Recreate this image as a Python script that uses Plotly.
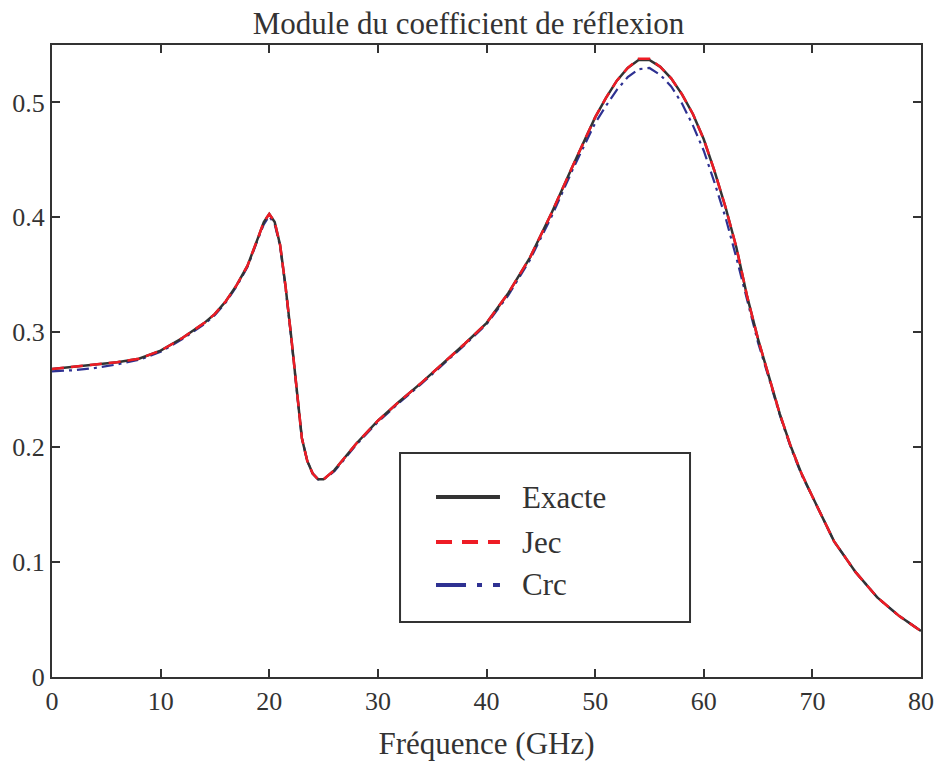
import plotly.graph_objects as go

freq = [0, 2, 4, 6, 8, 10, 12, 14, 15, 16, 17, 18, 19, 19.5, 20, 20.5, 21, 21.5, 22,
        22.5, 23, 23.5, 24, 24.5, 25, 26, 27, 28, 30, 32, 34, 36, 38, 40, 42, 44, 46,
        48, 50, 51, 52, 53, 54, 55, 56, 57, 58, 59, 60, 61, 62, 63, 64, 65, 66, 67,
        68, 69, 70, 72, 74, 76, 78, 80]

exacte = [0.268, 0.270, 0.272, 0.274, 0.277, 0.284, 0.295, 0.308, 0.316, 0.327, 0.341,
          0.358, 0.383, 0.396, 0.403, 0.396, 0.376, 0.340, 0.298, 0.250, 0.208, 0.188,
          0.177, 0.172, 0.172, 0.180, 0.192, 0.203, 0.223, 0.240, 0.256, 0.273, 0.290,
          0.308, 0.334, 0.365, 0.404, 0.446, 0.487, 0.504, 0.519, 0.530, 0.537, 0.537,
          0.531, 0.521, 0.507, 0.490, 0.468, 0.440, 0.409, 0.374, 0.331, 0.294, 0.262,
          0.229, 0.201, 0.177, 0.157, 0.118, 0.091, 0.069, 0.053, 0.040]

jec = [0.268, 0.270, 0.272, 0.274, 0.277, 0.284, 0.295, 0.308, 0.316, 0.327, 0.341,
       0.358, 0.383, 0.396, 0.403, 0.396, 0.376, 0.340, 0.298, 0.250, 0.208, 0.188,
       0.177, 0.172, 0.172, 0.180, 0.192, 0.203, 0.223, 0.240, 0.256, 0.273, 0.290,
       0.308, 0.334, 0.365, 0.404, 0.446, 0.487, 0.504, 0.519, 0.530, 0.538, 0.538,
       0.531, 0.521, 0.507, 0.490, 0.468, 0.440, 0.409, 0.374, 0.331, 0.294, 0.262,
       0.229, 0.201, 0.177, 0.157, 0.118, 0.091, 0.069, 0.053, 0.040]

crc = [0.266, 0.267, 0.269, 0.272, 0.276, 0.283, 0.294, 0.307, 0.315, 0.326, 0.340,
       0.357, 0.382, 0.394, 0.401, 0.394, 0.375, 0.339, 0.297, 0.250, 0.208, 0.188,
       0.177, 0.172, 0.172, 0.179, 0.191, 0.202, 0.222, 0.239, 0.255, 0.272, 0.289,
       0.307, 0.332, 0.363, 0.401, 0.443, 0.482, 0.497, 0.511, 0.522, 0.529, 0.530,
       0.524, 0.514, 0.499, 0.480, 0.458, 0.430, 0.400, 0.365, 0.327, 0.291, 0.260,
       0.228, 0.200, 0.176, 0.157, 0.118, 0.091, 0.069, 0.053, 0.040]

series_names = ["Exacte", "Jec", "Crc"]
x_ticks = [0, 10, 20, 30, 40, 50, 60, 70, 80]
y_ticks = [0, 0.1, 0.2, 0.3, 0.4, 0.5]
y_tick_labels = ["0", "0.1", "0.2", "0.3", "0.4", "0.5"]

FONT = "Liberation Serif"
AX = "#333333"
COLORS = {"Exacte": "#333333", "Jec": "#ee1c25", "Crc": "#2e3192"}
DASH_TRACE = {"Exacte": "solid", "Jec": "12px,7px", "Crc": "12px,5px,3px,5px"}
DASH_LEG = {"Exacte": "solid", "Jec": "16px,10px", "Crc": "30px,11px,5px,11px"}
WIDTH = {"Exacte": 2.5, "Jec": 2.5, "Crc": 2.2}

W, H = 937, 767

fig = go.Figure()
for name, vals in [("Crc", crc), ("Exacte", exacte), ("Jec", jec)]:
    fig.add_trace(go.Scatter(x=freq, y=vals, name=name, mode="lines", showlegend=False,
                             line=dict(color=COLORS[name], width=WIDTH[name],
                                       dash=DASH_TRACE[name])))

# legend box (drawn in paper coordinates)
shapes = [dict(type="rect", xref="paper", yref="paper", x0=0.4005, x1=0.7342,
               y0=0.0870, y1=0.3544, line=dict(color=AX, width=2), fillcolor="white",
               layer="above")]
annotations = []
rows_y = [0.2848, 0.2136, 0.1456]
for name, ry in zip(series_names, rows_y):
    shapes.append(dict(type="line", xref="paper", yref="paper", x0=0.4419, x1=0.5155,
                       y0=ry, y1=ry, layer="above",
                       line=dict(color=COLORS[name], width=4, dash=DASH_LEG[name])))
    annotations.append(dict(text=name, xref="paper", yref="paper", x=0.5385, y=ry,
                            xanchor="left", yanchor="middle", showarrow=False,
                            font=dict(size=31, family=FONT, color=AX)))

fig.update_layout(
    width=W, height=H,
    paper_bgcolor="white", plot_bgcolor="white",
    margin=dict(l=52, r=16, t=45, b=90),
    font=dict(family=FONT, color=AX, size=26),
    title=dict(text="Module du coefficient de réflexion", x=0.5, xanchor="center",
               y=1 - 23 / H, yanchor="middle", font=dict(size=31, family=FONT, color=AX)),
    showlegend=False,
    shapes=shapes,
    annotations=annotations,
)

fig.update_xaxes(range=[0, 80], tickvals=x_ticks, ticks="inside", ticklen=8, tickwidth=1.5,
                 tickcolor=AX, showline=True, linecolor=AX, linewidth=2, mirror="ticks",
                 showgrid=False, zeroline=False, automargin=False,
                 tickfont=dict(size=26, family=FONT),
                 title=dict(text="Fréquence (GHz)", font=dict(size=31, family=FONT), standoff=17))
fig.update_yaxes(range=[0, 0.55], tickvals=y_ticks, ticktext=y_tick_labels, ticks="inside",
                 ticklen=8, tickwidth=1.5, tickcolor=AX, showline=True, linecolor=AX,
                 linewidth=2, mirror="ticks", showgrid=False, zeroline=False, automargin=False,
                 tickfont=dict(size=26, family=FONT))

fig.write_html("out.html", config={"displayModeBar": False},
               post_script="document.body.style.margin='0';document.body.style.overflow='hidden';")
